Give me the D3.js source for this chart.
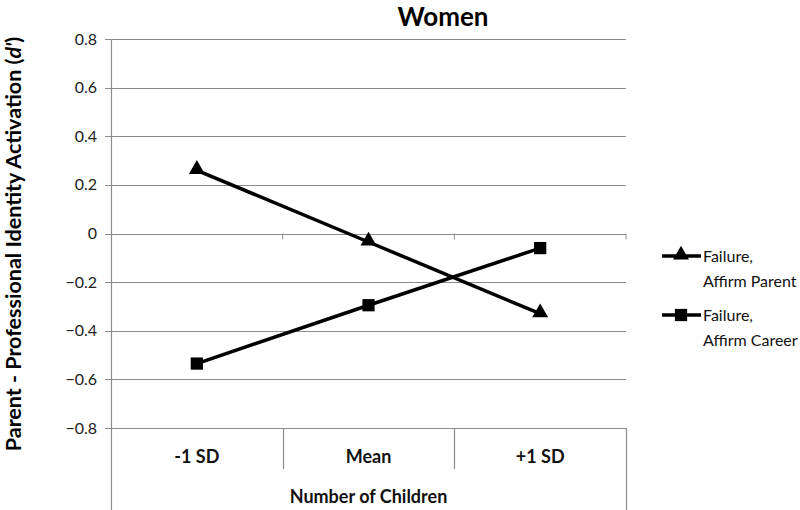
<!DOCTYPE html>
<html>
<head>
<meta charset="utf-8">
<script src="https://cdn.jsdelivr.net/npm/d3@7"></script>
<style>
  body { margin: 0; background: #fff; }
  text { font-family: Lato, "Open Sans", sans-serif; }
</style>
</head>
<body>
<svg id="graph" width="800" height="510"></svg>
<script>
const categories = ["-1 SD", "Mean", "+1 SD"];
const yTicks = [0.8, 0.6, 0.4, 0.2, 0, -0.2, -0.4, -0.6, -0.8];
const affirmParent = [0.26, -0.035, -0.33];
const affirmCareer = [-0.535, -0.295, -0.06];
const seriesNames = [["Failure,", "Affirm Parent"], ["Failure,", "Affirm Career"]];

const width = 800;
const height = 510;
const margin = { top: 39, right: 174, bottom: 82, left: 111 };
const svg = d3.select("#graph").attr("viewBox", [0, 0, width, height]);

const x = d3
  .scaleBand()
  .domain(categories)
  .range([margin.left, width - margin.right]);
const y = d3
  .scaleLinear()
  .domain([-0.8, 0.8])
  .range([height - margin.bottom, margin.top]);

const grey = "#8c8c8c";

// gridlines
svg
  .append("g")
  .selectAll("line")
  .data(yTicks)
  .join("line")
  .attr("x1", margin.left - 6)
  .attr("x2", width - margin.right)
  .attr("y1", (d) => Math.round(y(d)) + 0.5)
  .attr("y2", (d) => Math.round(y(d)) + 0.5)
  .attr("stroke", grey)
  .attr("stroke-width", 1.2);

// small ticks on the zero line at category boundaries
svg
  .append("g")
  .selectAll("line")
  .data(categories)
  .join("line")
  .attr("x1", (d) => x(d) + x.bandwidth())
  .attr("x2", (d) => x(d) + x.bandwidth())
  .attr("y1", y(0))
  .attr("y2", y(0) + 6)
  .attr("stroke", grey);

// y tick labels
svg
  .append("g")
  .selectAll("text")
  .data(yTicks)
  .join("text")
  .attr("x", margin.left - 14)
  .attr("y", (d) => y(d))
  .attr("dy", "0.35em")
  .attr("text-anchor", "end")
  .attr("font-size", 16)
  .attr("fill", "#222")
  .text((d) => (d === 0 ? "0" : d3.format(".1f")(d)));

// y axis line, extends through the category box
svg
  .append("line")
  .attr("x1", margin.left + 0.5)
  .attr("x2", margin.left + 0.5)
  .attr("y1", margin.top)
  .attr("y2", height)
  .attr("stroke", grey)
  .attr("stroke-width", 1.2);

svg
  .append("line")
  .attr("x1", width - margin.right + 0.5)
  .attr("x2", width - margin.right + 0.5)
  .attr("y1", y(-0.8))
  .attr("y2", height)
  .attr("stroke", grey)
  .attr("stroke-width", 1.2);

// category separators
svg
  .append("g")
  .selectAll("line")
  .data(categories.slice(0, -1))
  .join("line")
  .attr("x1", (d) => Math.round(x(d) + x.bandwidth()) + 0.5)
  .attr("x2", (d) => Math.round(x(d) + x.bandwidth()) + 0.5)
  .attr("y1", y(-0.8))
  .attr("y2", y(-0.8) + 41)
  .attr("stroke", grey)
  .attr("stroke-width", 1.2);

// category labels
svg
  .append("g")
  .selectAll("text")
  .data(categories)
  .join("text")
  .attr("x", (d) => x(d) + x.bandwidth() / 2)
  .attr("y", y(-0.8) + 35)
  .attr("text-anchor", "middle")
  .attr("font-size", 18)
  .attr("font-weight", "bold")
  .attr("fill", "#111")
  .text((d) => d);

svg
  .append("text")
  .attr("x", (margin.left + width - margin.right) / 2)
  .attr("y", height - 7)
  .attr("text-anchor", "middle")
  .attr("font-size", 18)
  .attr("font-weight", "bold")
  .attr("fill", "#111")
  .text("Number of Children");

// title
svg
  .append("text")
  .attr("x", 443)
  .attr("y", 26)
  .attr("text-anchor", "middle")
  .attr("font-size", 26)
  .attr("font-weight", "bold")
  .text("Women");

// y axis title
svg
  .append("text")
  .attr("transform", `translate(21,${244}) rotate(-90)`)
  .attr("text-anchor", "middle")
  .attr("font-size", 21.5)
  .attr("font-weight", "bold")
  .call((t) => t.append("tspan").text("Parent - Professional Identity Activation ("))
  .call((t) => t.append("tspan").attr("font-style", "italic").text("d'"))
  .call((t) => t.append("tspan").text(")"));

// series
const line = d3
  .line()
  .x((d, i) => x(categories[i]) + x.bandwidth() / 2)
  .y((d) => y(d));

const triangle = d3.symbol().type(d3.symbolTriangle).size(110);
const square = d3.symbol().type(d3.symbolSquare).size(150);

const series = [
  { values: affirmParent, symbol: triangle, dy: -1 },
  { values: affirmCareer, symbol: square, dy: 0 },
];

series.forEach((s, k) => {
  svg
    .append("path")
    .attr("d", line(s.values))
    .attr("fill", "none")
    .attr("stroke", "#000")
    .attr("stroke-width", 3.5);

  svg
    .append("g")
    .selectAll("path")
    .data(s.values)
    .join("path")
    .attr(
      "transform",
      (d, i) =>
        `translate(${x(categories[i]) + x.bandwidth() / 2},${y(d) + s.dy})`
    )
    .attr("d", s.symbol)
    .attr("fill", "#000");

  // legend
  const ly = 256 + k * 59;
  const lg = svg.append("g");
  lg.append("line")
    .attr("x1", 662)
    .attr("x2", 701)
    .attr("y1", ly)
    .attr("y2", ly)
    .attr("stroke", "#000")
    .attr("stroke-width", 3.5);
  lg.append("path")
    .attr("transform", `translate(681,${ly + s.dy})`)
    .attr("d", s.symbol)
    .attr("fill", "#000");
  lg.append("text")
    .attr("x", 703)
    .attr("y", ly + 6)
    .attr("font-size", 16)
    .attr("fill", "#111")
    .call((t) => t.append("tspan").text(seriesNames[k][0]))
    .call((t) =>
      t.append("tspan").attr("x", 703).attr("dy", 25).text(seriesNames[k][1])
    );
});
</script>
</body>
</html>
